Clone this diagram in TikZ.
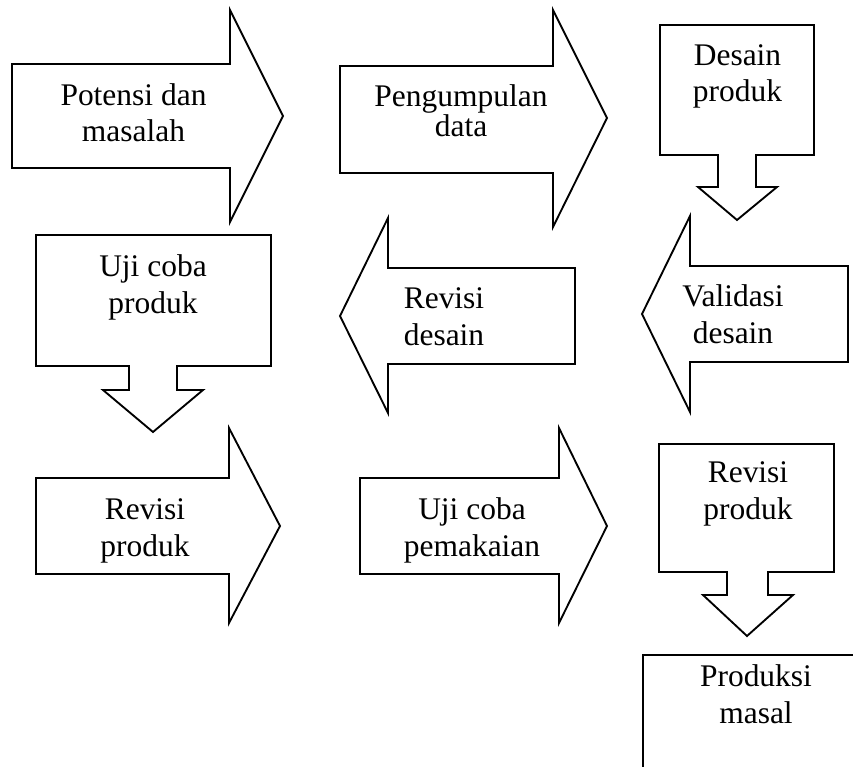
\documentclass[tikz,border=0pt]{standalone}
\usepackage{fontspec}
\setmainfont{Liberation Serif}
\begin{document}
\begin{tikzpicture}[x=0.75pt,y=-0.75pt,
  outl/.style={draw=black,line width=1.4pt,line join=miter},
  lbl/.style={font=\fontsize{23.6}{27.4}\selectfont,align=center,inner sep=0pt,anchor=base},
  tight/.style={font=\fontsize{23.6}{22.8}\selectfont}]
\useasboundingbox (0,0) rectangle (853,767);
\clip (0,0) rectangle (853,767);
% shapes
\draw[outl] (12,64) -- (230,64) -- (230,10) -- (283,116) -- (230,222) -- (230,168) -- (12,168) -- cycle;
\draw[outl] (340,66) -- (553,66) -- (553,10) -- (607,118) -- (553,227) -- (553,173) -- (340,173) -- cycle;
\draw[outl] (660,25) -- (814,25) -- (814,155) -- (756,155) -- (756,187) -- (777,187) -- (737,220) -- (698,187) -- (718,187) -- (718,155) -- (660,155) -- cycle;
\draw[outl] (36,235) -- (271,235) -- (271,366) -- (177,366) -- (177,390) -- (203,390) -- (153,432) -- (103,390) -- (129,390) -- (129,366) -- (36,366) -- cycle;
\draw[outl] (575,268) -- (575,364) -- (388,364) -- (388,413) -- (340,316) -- (388,218) -- (388,268) -- cycle;
\draw[outl] (848,266) -- (848,362) -- (690,362) -- (690,412) -- (642,314) -- (690,216) -- (690,266) -- cycle;
\draw[outl] (36,478) -- (229,478) -- (229,428) -- (280,526) -- (229,623) -- (229,574) -- (36,574) -- cycle;
\draw[outl] (360,478) -- (559,478) -- (559,428) -- (607,526) -- (559,623) -- (559,574) -- (360,574) -- cycle;
\draw[outl] (659,444) -- (834,444) -- (834,572) -- (768,572) -- (768,595) -- (793,595) -- (747,636) -- (703,595) -- (727,595) -- (727,572) -- (659,572) -- cycle;
\draw[outl] (643,655) rectangle (900,900);
% labels (anchored at the baseline of the last line)
\node[lbl] (t1) at (133.5,142) {Potensi dan\\masalah};
\node[lbl,tight] (t2) at (461,137) {Pengumpulan\\data};
\node[lbl] (t3) at (737.5,102) {Desain\\produk};
\node[lbl] (t4) at (153,313) {Uji coba\\produk};
\node[lbl] (t5) at (444,345) {Revisi\\desain};
\node[lbl] (t6) at (733,343) {Validasi\\desain};
\node[lbl] (t7) at (145,556) {Revisi\\produk};
\node[lbl] (t8) at (472,556) {Uji coba\\pemakaian};
\node[lbl] (t9) at (748,519) {Revisi\\produk};
\node[lbl] (t10) at (756,723) {Produksi\\masal};
\end{tikzpicture}
\end{document}
